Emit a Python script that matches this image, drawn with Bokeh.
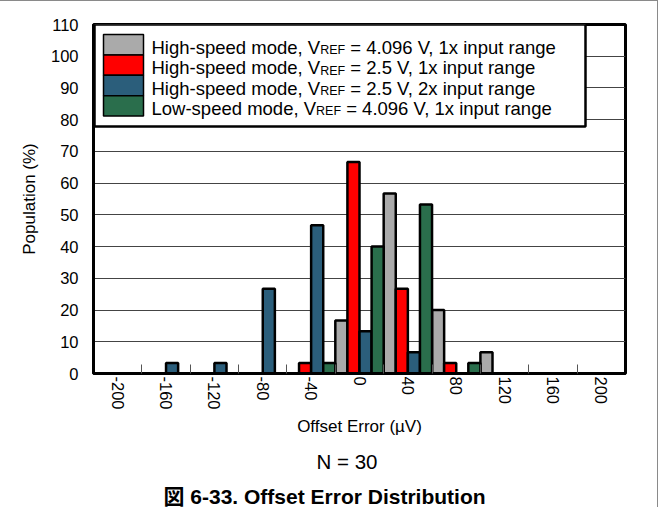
from bokeh.plotting import figure
from bokeh.models import Range1d, FixedTicker, Label, BoxAnnotation, Title
from bokeh.embed import file_html
from bokeh.resources import INLINE

# ---------------- data ----------------
bins = ["-200", "-160", "-120", "-80", "-40", "0", "40", "80", "120", "160", "200"]
hs_4096_1x = [0, 0, 0, 0, 0, 16.7, 56.7, 20.0, 6.7, 0, 0]
hs_25_1x = [0, 0, 0, 0, 3.3, 66.7, 26.7, 3.3, 0, 0, 0]
hs_25_2x = [0, 3.3, 3.3, 26.7, 46.7, 13.3, 6.7, 0, 0, 0, 0]
ls_4096_1x = [0, 0, 0, 0, 3.3, 40.0, 53.3, 3.3, 0, 0, 0]
legend_parts = [
    ("High-speed mode, V", "REF", "= 4.096 V, 1x input range"),
    ("High-speed mode, V", "REF", "= 2.5 V, 1x input range"),
    ("High-speed mode, V", "REF", "= 2.5 V, 2x input range"),
    ("Low-speed mode, V", "REF", "= 4.096 V, 1x input range"),
]
y_ticks = list(range(0, 111, 10))
x_title = "Offset Error (\u00b5V)"
y_title = "Population (%)"
note = "N = 30"
caption = "\u56f3 6-33. Offset Error Distribution"

series = [hs_4096_1x, hs_25_1x, hs_25_2x, ls_4096_1x]
colors = ["#AAAAAA", "#FF0000", "#2B5E7B", "#2A6E4C"]

FONT = "Liberation Sans"
FRAME_W, FRAME_H = 532, 349
LEFT, TOP = 93, 23
W, H = 658, 507

p = figure(width=W, height=H, output_backend="svg", toolbar_location=None,
           x_range=Range1d(-0.5, len(bins) - 0.5), y_range=Range1d(0, 110))
p.min_border_left = LEFT
p.min_border_right = W - LEFT - FRAME_W
p.min_border_top = TOP
p.min_border_bottom = H - TOP - FRAME_H
p.outline_line_color = "black"
p.outline_line_width = 3
p.background_fill_color = "white"
p.border_fill_color = "white"
p.styles = {"border-top": "1px solid #8a8a8a", "border-right": "1px solid #8a8a8a"}

# bars
n = len(series)
bw = 1.0 / n
for k, (vals, col) in enumerate(zip(series, colors)):
    off = (k - (n - 1) / 2) * bw
    xs = [i + off for i in range(len(bins))]
    p.vbar(x=xs, top=vals, width=bw, fill_color=col, line_color="black", line_width=2.5)

# axes
xa = p.xaxis[0]
xa.ticker = FixedTicker(ticks=list(range(len(bins))),
                        minor_ticks=[i + 0.5 for i in range(len(bins) - 1)])
xa.major_label_overrides = {i: b for i, b in enumerate(bins)}
xa.major_label_orientation = "vertical"
xa.major_tick_line_color = None
xa.major_tick_out = 0
xa.minor_tick_in = 9
xa.minor_tick_out = 0
xa.minor_tick_line_color = "#555555"
xa.minor_tick_line_width = 1
xa.axis_line_width = 3
xa.major_label_standoff = 3
xa.axis_label = x_title
xa.axis_label_standoff = 4

ya = p.yaxis[0]
ya.ticker = FixedTicker(ticks=y_ticks)
ya.major_tick_line_color = None
ya.minor_tick_line_color = None
ya.axis_line_width = 3
ya.major_label_standoff = 9
ya.axis_label = y_title
ya.axis_label_standoff = 9

for ax in (xa, ya):
    ax.major_label_text_font = FONT
    ax.major_label_text_font_size = "16.5px"
    ax.major_label_text_color = "black"
    ax.axis_label_text_font = FONT
    ax.axis_label_text_font_size = "17px"
    ax.axis_label_text_font_style = "normal"
    ax.axis_label_text_color = "black"
    ax.axis_line_color = "black"

p.xgrid.grid_line_color = None
p.ygrid.grid_line_color = "#444444"
p.ygrid.grid_line_width = 1

# ---------------- manual legend ----------------
AW = {" ": 278, "H": 722, "i": 222, "g": 556, "h": 556, "-": 333, "s": 500, "p": 556,
      "e": 556, "d": 556, "m": 833, "o": 556, ",": 278, "V": 667, "L": 556, "w": 722,
      "R": 722, "E": 667, "F": 611, "=": 584, ".": 278, "x": 500, "n": 556, "u": 556,
      "t": 278, "r": 333, "a": 556}


def tw(s, size):
    return sum(AW.get(c, 556) for c in s) / 1000.0 * size


LEG_FS = 18.5
SUB_FS = 12.5
leg_box = BoxAnnotation(left=1, right=492, top=FRAME_H, bottom=FRAME_H - 102,
                        left_units="screen", right_units="screen",
                        top_units="screen", bottom_units="screen",
                        fill_color="white", fill_alpha=1.0,
                        line_color="black", line_width=2.5, line_alpha=1.0)
p.add_layout(leg_box)

row_h = 20.4
for k, (parts, col) in enumerate(zip(legend_parts, colors)):
    top = FRAME_H - 10 - row_h * k
    sw = BoxAnnotation(left=10, right=50, top=top, bottom=top - row_h,
                       left_units="screen", right_units="screen",
                       top_units="screen", bottom_units="screen",
                       fill_color=col, fill_alpha=1.0, line_color="black",
                       line_width=1.5, line_alpha=1.0)
    p.add_layout(sw)
    base = FRAME_H - 23 - row_h * k
    x0 = 58
    a, sub, b = parts
    p.add_layout(Label(x=x0, y=base, x_units="screen", y_units="screen", text=a,
                       text_font=FONT, text_font_size=f"{LEG_FS}px",
                       text_baseline="alphabetic", text_align="left", text_color="black"))
    x1 = x0 + tw(a, LEG_FS)
    p.add_layout(Label(x=x1, y=base - 2.7, x_units="screen", y_units="screen", text=sub,
                       text_font=FONT, text_font_size=f"{SUB_FS}px",
                       text_baseline="alphabetic", text_align="left", text_color="black"))
    x2 = x1 + tw(sub, SUB_FS) + tw(" ", LEG_FS)
    p.add_layout(Label(x=x2, y=base, x_units="screen", y_units="screen", text=b,
                       text_font=FONT, text_font_size=f"{LEG_FS}px",
                       text_baseline="alphabetic", text_align="left", text_color="black"))

# ---------------- notes below ----------------
p.add_layout(Title(text=note, align="left", offset=223, standoff=19,
                   text_font=FONT, text_font_size="20.5px", text_font_style="normal",
                   text_color="black"), "below")
p.add_layout(Title(text=caption, align="left", offset=70, standoff=0,
                   text_font=FONT + ", Noto Sans CJK JP", text_font_size="21px",
                   text_font_style="bold", text_color="black"), "below")

open("out.html", "w").write(file_html(p, INLINE))
